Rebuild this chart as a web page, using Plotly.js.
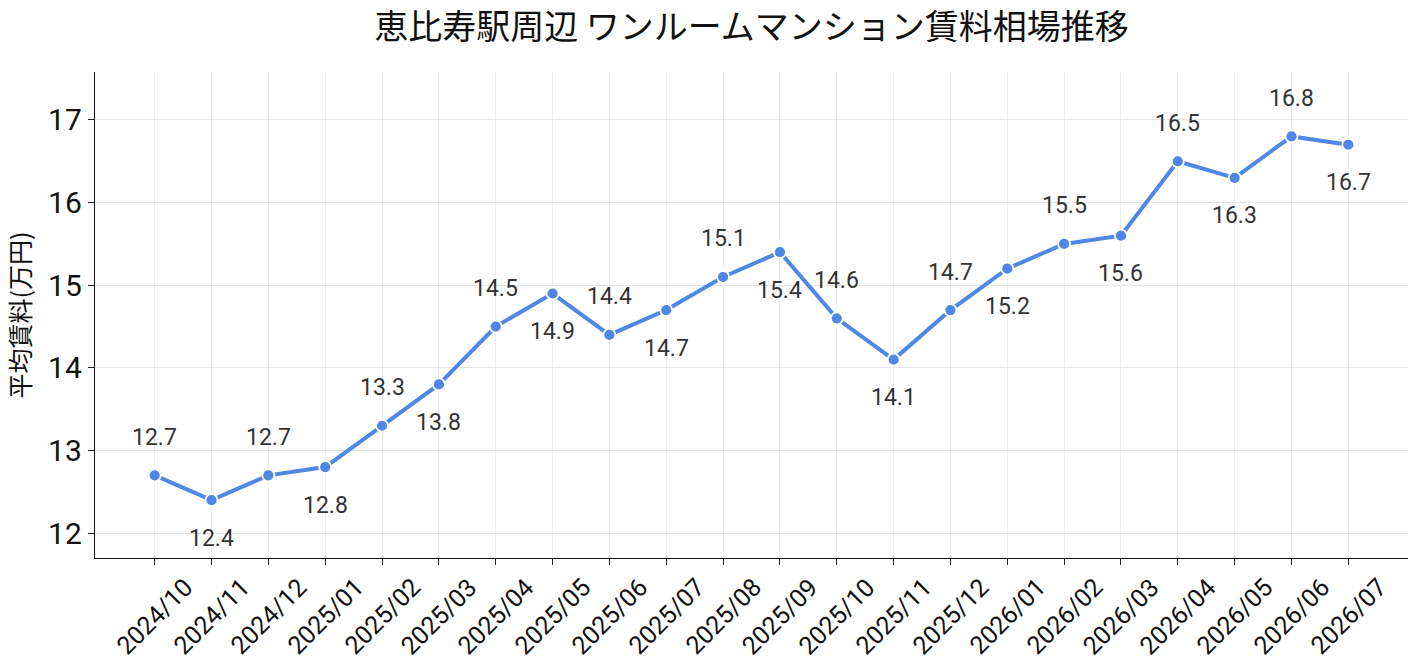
<!DOCTYPE html>
<html>
<head>
<meta charset="utf-8">
<script src="https://cdn.plot.ly/plotly-3.0.1.min.js"></script>
<style>
  html, body { margin: 0; padding: 0; background: #fff; }
  #chart { width: 1418px; height: 671px; }
</style>
</head>
<body>
<div id="chart"></div>
<script>
// Monthly average rent for one-room apartments around Ebisu station (10k yen)
const months = [
  "2024/10", "2024/11", "2024/12", "2025/01", "2025/02", "2025/03",
  "2025/04", "2025/05", "2025/06", "2025/07", "2025/08", "2025/09",
  "2025/10", "2025/11", "2025/12", "2026/01", "2026/02", "2026/03",
  "2026/04", "2026/05", "2026/06", "2026/07"
];
const rents = [
  12.7, 12.4, 12.7, 12.8, 13.3, 13.8,
  14.5, 14.9, 14.4, 14.7, 15.1, 15.4,
  14.6, 14.1, 14.7, 15.2, 15.5, 15.6,
  16.5, 16.3, 16.8, 16.7
];
const yTicks = [12, 13, 14, 15, 16, 17];

const JP = '"Noto Sans CJK JP", "Noto Sans", sans-serif';
const NUM = 'Roboto, "Noto Sans CJK JP", sans-serif';
const BLUE = '#4E87E6';

// Value labels alternate above / below the points
const valueLabels = months.map((m, i) => ({
  x: m,
  y: rents[i],
  text: rents[i].toFixed(1),
  showarrow: false,
  xanchor: 'center',
  yanchor: 'middle',
  yshift: i % 2 === 0 ? 38 : -38,
  font: { family: NUM, size: 23, color: '#333333' }
}));

// Month labels, rotated 45° and centred under each tick
const monthLabels = months.map(m => ({
  x: m,
  xref: 'x',
  y: 0,
  yref: 'paper',
  yshift: -58,
  text: m,
  textangle: -45,
  showarrow: false,
  xanchor: 'center',
  yanchor: 'middle',
  font: { family: NUM, size: 25, color: '#111111' }
}));

const trace = {
  x: months,
  y: rents,
  type: 'scatter',
  mode: 'lines+markers',
  line: { color: BLUE, width: 4 },
  marker: { color: BLUE, size: 12, line: { color: '#ffffff', width: 1.8 } },
  hoverinfo: 'x+y'
};

const layout = {
  width: 1418,
  height: 671,
  paper_bgcolor: '#ffffff',
  plot_bgcolor: '#ffffff',
  margin: { l: 95, r: 10, t: 72, b: 113 },
  title: {
    text: '恵比寿駅周辺 ワンルームマンション賃料相場推移',
    font: { family: JP, size: 34, color: '#111111' },
    xref: 'paper',
    x: 0.5,
    xanchor: 'center',
    yref: 'container',
    y: 0.96,
    yanchor: 'middle'
  },
  showlegend: false,
  xaxis: {
    type: 'category',
    range: [-1.05, 22.05],
    showticklabels: false,
    ticks: 'outside',
    ticklen: 6,
    tickcolor: '#222222',
    showline: true,
    linecolor: '#111111',
    linewidth: 1.2,
    showgrid: true,
    gridcolor: '#EDEDED',
    gridwidth: 1,
    zeroline: false
  },
  yaxis: {
    range: [11.7, 17.58],
    tickvals: yTicks,
    ticktext: yTicks.map(String),
    tickfont: { family: NUM, size: 30, color: '#111111' },
    ticks: 'outside',
    ticklen: 6,
    tickcolor: '#222222',
    showline: true,
    linecolor: '#111111',
    linewidth: 1.2,
    showgrid: true,
    gridcolor: '#E6E6E6',
    gridwidth: 1,
    zeroline: false,
    title: {
      text: '平均賃料(万円)',
      font: { family: JP, size: 25, color: '#111111' },
      standoff: 10
    }
  },
  annotations: valueLabels.concat(monthLabels)
};

Plotly.newPlot('chart', [trace], layout, { displayModeBar: false, staticPlot: true });
</script>
</body>
</html>
